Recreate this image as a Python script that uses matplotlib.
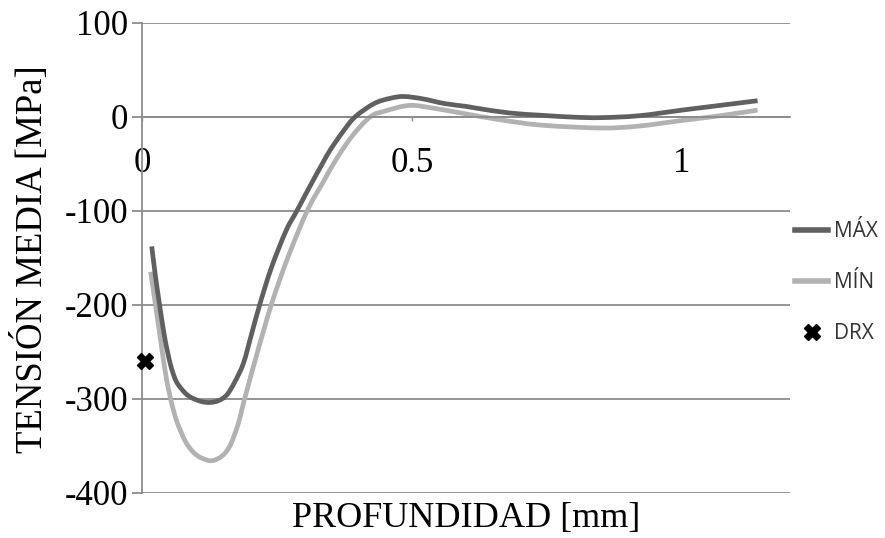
import matplotlib
matplotlib.use("Agg")
import matplotlib.pyplot as plt
from matplotlib.path import Path
from matplotlib.patches import PathPatch
from matplotlib.lines import Line2D

# ---- data ----
max_x = [0.018, 0.025, 0.032, 0.042, 0.052, 0.060, 0.067, 0.080, 0.092, 0.110,
         0.126, 0.142, 0.157, 0.172, 0.188, 0.203, 0.219, 0.240, 0.267, 0.287,
         0.310, 0.334, 0.349, 0.372, 0.395, 0.430, 0.460, 0.485, 0.520, 0.560,
         0.600, 0.620, 0.680, 0.740, 0.800, 0.850, 0.920, 1.000, 1.070, 1.140]
max_y = [-138, -170, -198, -235, -262, -277, -285, -294, -299, -303,
         -304, -302, -296, -282, -262, -231, -198, -160, -121, -100,
         -75, -50, -35, -16, 0, 14, 19.6, 21.5, 19, 14,
         11, 9, 4, 1.5, -0.5, -1, 1, 7, 12, 17]

min_x = [0.016, 0.025, 0.035, 0.045, 0.055, 0.065, 0.080, 0.095, 0.110, 0.129,
         0.148, 0.163, 0.178, 0.191, 0.215, 0.240, 0.270, 0.306, 0.335, 0.360,
         0.390, 0.423, 0.450, 0.495, 0.540, 0.600, 0.660, 0.740, 0.850, 0.920,
         1.000, 1.070, 1.140]
min_y = [-165, -200, -240, -278, -305, -325, -345, -357, -363, -366,
         -361, -350, -327, -298, -248, -199, -150, -100, -70, -45,
         -20, 0, 6, 12, 9, 3, -3, -9, -12, -10,
         -4, 1, 7]

drx_x = [0.005]
drx_y = [-260]

labels = ["MÁX", "MÍN", "DRX"]
x_ticks = [0, 0.5, 1]
x_ticklabels = ["0", "0.5", "1"]
y_ticks = [-400, -300, -200, -100, 0, 100]
y_ticklabels = ["-400", "-300", "-200", "-100", "0", "100"]


def smooth_path(xs, ys):
    """Catmull-Rom style Bezier path through the read points (like a smoothed line)."""
    pts = list(zip(xs, ys))
    verts = [pts[0]]
    codes = [Path.MOVETO]
    n = len(pts)
    for i in range(n - 1):
        p0 = pts[i - 1] if i > 0 else pts[i]
        p1 = pts[i]
        p2 = pts[i + 1]
        p3 = pts[i + 2] if i + 2 < n else pts[i + 1]
        c1 = (p1[0] + (p2[0] - p0[0]) / 6, p1[1] + (p2[1] - p0[1]) / 6)
        c2 = (p2[0] - (p3[0] - p1[0]) / 6, p2[1] - (p3[1] - p1[1]) / 6)
        verts += [c1, c2, p2]
        codes += [Path.CURVE4] * 3
    return Path(verts, codes)


# ---- figure ----
W, H = 885, 538
fig = plt.figure(figsize=(W / 100, H / 100), dpi=100)
L, R, T, B = 142, 790, 22.7, 492.7
ax = fig.add_axes([L / W, 1 - B / H, (R - L) / W, (B - T) / H])

grid_c = "#8c8c8c"
c_max = "#606060"
c_min = "#b2b2b2"
lw = 3.4
serif = "Liberation Serif"

ax.set_xlim(0, 1.2)
ax.set_ylim(-400, 100)

ax.add_patch(PathPatch(smooth_path(max_x, max_y), fill=False, ec=c_max, lw=lw,
                       capstyle="butt", zorder=3))
ax.add_patch(PathPatch(smooth_path(min_x, min_y), fill=False, ec=c_min, lw=lw,
                       capstyle="butt", zorder=2))
ax.plot(drx_x, drx_y, linestyle="none", marker="X", ms=11, color="black",
        mec="black", zorder=4, clip_on=False)

# axes styling
for s in ["top", "right"]:
    ax.spines[s].set_visible(False)
ax.spines["left"].set_color(grid_c)
ax.spines["left"].set_linewidth(1.3)
ax.spines["bottom"].set_position(("data", 0))
ax.spines["bottom"].set_color(grid_c)
ax.spines["bottom"].set_linewidth(1.3)

ax.set_yticks(y_ticks)
ax.set_yticklabels(y_ticklabels, fontfamily=serif, fontsize=25)
ax.set_xticks(x_ticks)
ax.set_xticklabels(x_ticklabels, fontfamily=serif, fontsize=25)
ax.tick_params(axis="y", direction="out", length=7, width=1.3, color=grid_c,
               pad=3)
ax.tick_params(axis="x", direction="out", length=3, width=1.0, color=grid_c,
               pad=19)
ax.yaxis.grid(True, color=grid_c, lw=1.3, zorder=0)
ax.set_axisbelow(True)

fig.text((L + R) / 2 / W, 1 - 526.7 / H, "PROFUNDIDAD [mm]", fontfamily=serif,
         fontsize=26, ha="center", va="baseline")
fig.text(41.7 / W, 1 - 259 / H, "TENSIÓN MEDIA [MPa]", fontfamily=serif,
         fontsize=26.5, rotation=90, rotation_mode="anchor", ha="center",
         va="baseline")

handles = [Line2D([], [], color=c_max, lw=lw + 0.6),
           Line2D([], [], color=c_min, lw=lw + 0.6),
           Line2D([], [], linestyle="none", marker="X", ms=11, color="black")]
leg = ax.legend(handles, labels, loc="center left",
                bbox_to_anchor=(795 / W, 1 - 282.5 / H),
                bbox_transform=fig.transFigure, frameon=False,
                prop={"family": "Open Sans", "size": 15}, borderpad=0,
                handlelength=1.6, handletextpad=0.25, labelspacing=1.45,
                borderaxespad=0)
for t in leg.get_texts():
    t.set_color("#333333")

fig.savefig("out.png", dpi=100)
